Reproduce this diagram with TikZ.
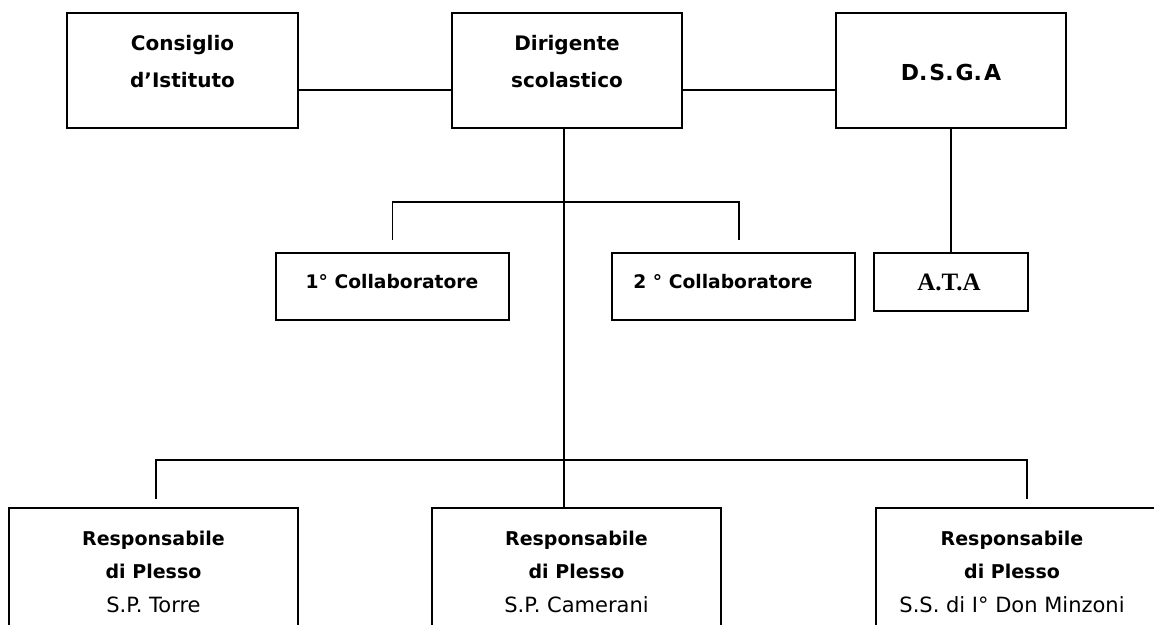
\documentclass[tikz,border=0pt]{standalone}
\usepackage{fontspec}
\setmainfont{DejaVu Sans}
\newfontfamily\atafont{Liberation Serif}
% centred lines whose baseline is the first line's baseline
\newcommand\boxlines[1]{\begin{tabular}[t]{@{}c@{}}#1\end{tabular}}
\newcommand\placename{\fontsize{21}{33.5}\selectfont\mdseries}
\begin{document}
\begin{tikzpicture}[x=1pt,y=-1pt,
  box/.style={draw, line width=1.6pt, rectangle, inner sep=0pt},
  link/.style={line width=1.6pt},
  lbl/.style={anchor=base, inner sep=0pt},
  toptext/.style={lbl, font=\fontsize{20}{37}\selectfont\bfseries},
  coltext/.style={lbl, font=\fontsize{18.7}{22}\selectfont\bfseries},
  plessotext/.style={lbl, font=\fontsize{19}{33.5}\selectfont\bfseries},
]
\useasboundingbox (0,0) rectangle (1154,624);
\clip (0,0) rectangle (1154,624);

% top row
\node[box, minimum width=231pt, minimum height=115pt] (cons) at (182.5,70.5) {};
\node[box, minimum width=230pt, minimum height=115pt] (dir)  at (567,70.5) {};
\node[box, minimum width=230pt, minimum height=115pt] (dsga) at (951,70.5) {};
\node[toptext] (cons-t) at (182.5,50) {\boxlines{Consiglio\\d’Istituto}};
\node[toptext] (dir-t)  at (567,50) {\boxlines{Dirigente\\scolastico}};
\node[toptext, font=\fontsize{22}{26}\selectfont\bfseries] (dsga-t) at (951,80)
  {D.\hspace{2pt}S.\hspace{2pt}G.\hspace{2pt}A};

% collaborators and staff
\node[box, minimum width=233pt, minimum height=67pt] (col1) at (392.5,286.5) {};
\node[box, minimum width=243pt, minimum height=67pt] (col2) at (733.5,286.5) {};
\node[box, minimum width=154pt, minimum height=58pt] (ata)  at (951,282) {};
\node[coltext] (col1-t) at (392,288) {1° Collaboratore};
\node[coltext] (col2-t) at (723,288) {2 ° Collaboratore};
\node[lbl, font=\fontsize{25}{30}\selectfont\atafont\bfseries] (ata-t) at (949,290) {A.T.A};

% heads of the school buildings
\node[box, minimum width=289pt, minimum height=142pt] (resp1) at (153.5,579) {};
\node[box, minimum width=289pt, minimum height=142pt] (resp2) at (576.5,579) {};
\node[box, minimum width=280pt, minimum height=142pt] (resp3) at (1016,579) {};
\node[plessotext] (resp1-t) at (153.5,545) {\boxlines{Responsabile\\di Plesso\\{\placename S.P. Torre}}};
\node[plessotext] (resp2-t) at (576.5,545) {\boxlines{Responsabile\\di Plesso\\{\placename S.P. Camerani}}};
\node[plessotext] (resp3-t) at (1012,545) {\boxlines{Responsabile\\di Plesso\\{\placename S.S. di I° Don Minzoni}}};

% connectors
\coordinate (topline) at (0,90);
\coordinate (spine) at (564,0);
\coordinate (colbar) at (0,202);
\coordinate (botbar) at (0,460);
\coordinate (b1) at (156,499);
\coordinate (b3) at (1027,499);

\draw[link] (cons.east |- topline) -- (dir.west |- topline);
\draw[link] (dir.east |- topline) -- (dsga.west |- topline);
\draw[link] (spine |- dir.south) -- (spine |- resp2.north);
\draw[link] ([yshift=12pt]col1.north) |- (spine |- colbar)
            -| ([yshift=12pt,xshift=5.5pt]col2.north);
\draw[link] (dsga.south) -- (ata.north);
\draw[link] (b1) |- (spine |- botbar) -| (b3);
\end{tikzpicture}
\end{document}
